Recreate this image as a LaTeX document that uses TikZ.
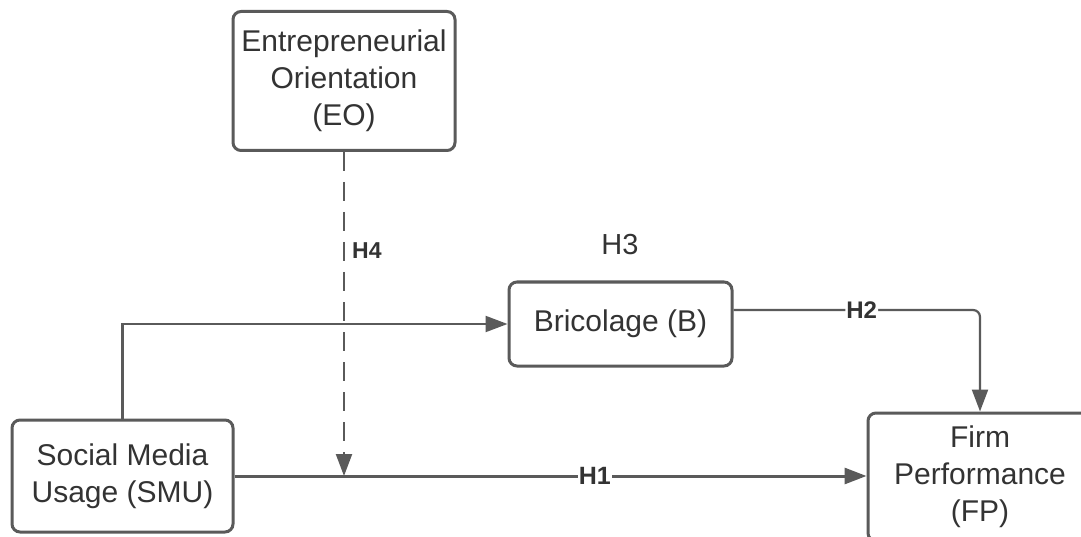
\documentclass[tikz,border=0pt]{standalone}
\usepackage{fontspec}
\setmainfont{Liberation Sans}
\usetikzlibrary{arrows.meta}
\definecolor{ln}{HTML}{5A5A5A}
\definecolor{tx}{HTML}{333333}
\tikzset{
  box/.style={draw=ln, line width=3pt, rounded corners=8pt, fill=white, text=tx,
    align=center, inner sep=0pt, font=\fontsize{30}{37}\selectfont},
  conn/.style={draw=ln, line width=2.2pt, -{Triangle[length=22pt,width=16pt]}},
  hlab/.style={fill=white, text=tx, inner sep=1pt, font=\bfseries},
}
\begin{document}
\begin{tikzpicture}[x=1pt,y=-1pt]
\clip (0,0) rectangle (1081,537);
\useasboundingbox (0,0) rectangle (1081,537);
\fill[white] (0,0) rectangle (1081,537);
\node[box, minimum width=222pt, minimum height=139pt] (EO) at (344,81) {Entrepreneurial\\Orientation\\(EO)};
\node[box, minimum width=221pt, minimum height=112pt] (SMU) at (122.5,476) {Social Media\\Usage (SMU)};
\node[box, minimum width=223pt, minimum height=84pt] (B) at (620.5,324) {Bricolage (B)};
\node[box, minimum width=224pt, minimum height=128pt] (FP) at (980,477) {Firm\\Performance\\(FP)};
\coordinate (J) at (EO.south |- SMU.east);
\coordinate (BR) at (980,310);
% H1
\draw[conn, line width=3pt] (SMU.east) -- node[hlab, pos=0.57, font=\fontsize{25}{28}\selectfont\bfseries] (H1) {H1} (SMU.east -| FP.west);
% SMU -> B
\draw[conn] (SMU.north) |- (B.west);
% B -> FP
\draw[conn, rounded corners=7pt] ([yshift=14pt]B.east) -- node[hlab, pos=0.52, font=\fontsize{24}{28}\selectfont\bfseries] (H2) {H2} (BR) -- (FP.north);
% EO dashed -> H1 line
\draw[conn, dash pattern=on 19pt off 11pt] (EO.south) -- (J);
\node[text=tx, font=\fontsize{23}{27}\selectfont\bfseries, anchor=west, inner sep=0pt] (H4) at (352,251) {H4};
\node[text=tx, font=\fontsize{29}{33}\selectfont] (H3) at (620,245) {H3};
\end{tikzpicture}
\end{document}
